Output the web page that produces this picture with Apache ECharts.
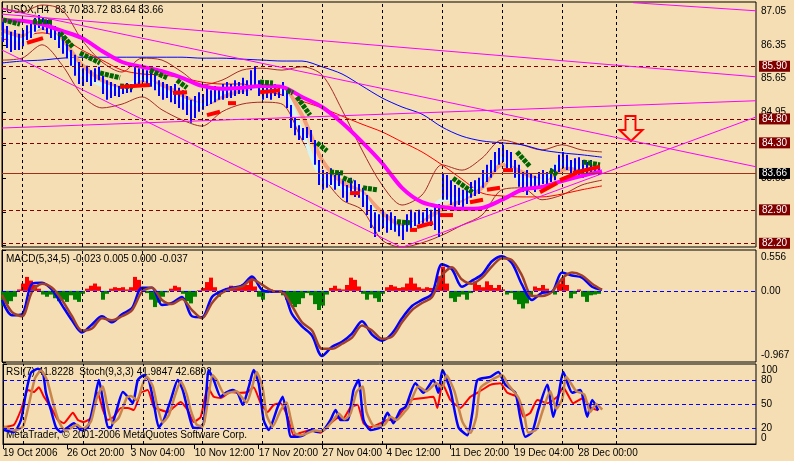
<!DOCTYPE html>
<html><head><meta charset="utf-8">
<script src="https://cdn.jsdelivr.net/npm/echarts@6/dist/echarts.min.js"></script>
<style>html,body{margin:0;padding:0;background:#F5DEB3;}#c{width:794px;height:461px;}</style>
</head><body><div id="c"></div>
<script>
// ---------- DATA ----------
const dateLabels = ["19 Oct 2006","26 Oct 20:00","3 Nov 04:00","10 Nov 12:00","17 Nov 20:00","27 Nov 04:00","4 Dec 12:00","11 Dec 20:00","19 Dec 04:00","28 Dec 00:00"];
const dateTicks = [0,32,64,96,128,160,192,224,256,288];
const separators = [10,40,70,100,130,160,190,220,250,280,307];

// price bars (every 2nd H4 bar), high / low
const priceHigh = [86.87,86.74,86.62,86.66,86.58,86.66,86.76,86.83,86.91,86.97,
86.93,86.87,86.78,86.74,86.62,86.53,86.41,86.24,86.14,85.99,
85.86,85.91,85.82,85.86,85.89,85.70,85.61,85.57,85.53,85.49,
85.53,85.55,85.53,85.91,85.86,85.89,85.82,85.78,85.74,85.61,
85.57,85.53,85.49,85.53,85.45,85.40,85.28,85.20,85.28,85.36,
85.32,85.45,85.40,85.49,85.45,85.53,85.57,85.53,85.61,85.57,
85.66,85.61,85.82,85.89,85.61,85.53,85.57,85.49,85.53,85.51,
85.57,85.45,85.09,84.82,84.67,84.61,84.63,84.57,84.36,83.94,
83.73,83.69,83.77,83.63,83.69,83.52,83.42,83.57,83.52,83.44,
83.36,83.21,83.00,82.85,82.81,82.90,82.81,82.85,82.77,82.69,
82.65,82.81,82.90,82.85,82.90,82.85,82.94,82.90,82.96,83.02,
83.67,83.63,83.52,83.42,83.36,83.32,83.40,83.48,83.52,83.57,
83.73,83.84,83.94,84.11,84.19,84.26,84.15,84.11,83.94,83.84,
83.69,83.73,83.65,83.61,83.69,83.73,83.69,83.77,83.84,84.05,
84.11,84.05,83.94,83.98,84.00,83.94,83.90,83.94,83.90,83.86];
const priceLow = [86.41,86.28,86.20,86.24,86.24,86.32,86.45,86.49,86.62,86.70,
86.66,86.58,86.49,86.45,86.28,86.16,86.07,85.91,85.70,85.53,
85.49,85.57,85.49,85.57,85.61,85.32,85.20,85.24,85.28,85.26,
85.32,85.34,85.36,85.49,85.53,85.57,85.49,85.47,85.40,85.28,
85.20,85.24,85.15,85.11,85.03,84.99,84.88,84.72,84.82,84.95,
84.99,85.07,85.11,85.15,85.20,85.20,85.24,85.24,85.28,85.32,
85.32,85.28,85.40,85.49,85.28,85.20,85.24,85.20,85.28,85.24,
85.28,85.03,84.61,84.46,84.36,84.36,84.40,84.32,83.84,83.42,
83.32,83.36,83.42,83.32,83.40,83.15,83.06,83.21,83.17,83.15,
82.96,82.79,82.52,82.33,82.44,82.52,82.42,82.48,82.44,82.35,
82.27,82.44,82.52,82.56,82.60,82.56,82.65,82.56,82.48,82.33,
83.11,83.11,83.00,82.96,83.00,82.90,83.02,83.15,83.19,83.23,
83.36,83.48,83.57,83.69,83.84,83.90,83.77,83.73,83.57,83.38,
83.27,83.21,83.32,83.27,83.40,83.44,83.38,83.48,83.52,83.69,
83.77,83.73,83.61,83.69,83.63,83.57,83.63,83.69,83.65,83.63];

// moving averages / bands sampled every 10 bars
const maBlue = [85.97,86.01,86.03,86.07,86.09,86.09,86.09,86.09,86.09,86.09,86.07,86.07,86.05,86.03,86.01,86.01,85.89,85.74,85.49,85.24,85.05,84.90,84.63,84.44,84.34,84.30,84.26,84.15,84.09,84.05,84.00];
const maMagenta = [86.87,86.85,86.78,86.64,86.49,86.22,85.99,85.89,85.80,85.66,85.49,85.43,85.45,85.49,85.47,85.26,85.05,84.72,84.32,83.88,83.36,83.06,82.96,82.92,82.94,83.11,83.32,83.38,83.50,83.61,83.71];
const maRed = [86.45,86.53,86.60,86.49,86.24,86.03,85.82,85.74,85.72,85.66,85.57,85.53,85.53,85.40,85.30,85.17,85.03,84.86,84.69,84.53,84.32,84.11,83.84,83.54,83.25,83.19,83.17,83.17,83.23,83.32,83.40];
const bandUp = [87.12,87.04,87.18,87.08,86.45,85.99,85.78,86.07,86.03,85.78,85.51,85.61,85.82,85.86,85.82,85.89,85.72,84.99,84.15,83.42,83.00,83.21,83.84,83.73,83.98,84.36,84.26,84.15,84.26,84.15,84.11];
const bandDn = [86.03,86.07,86.35,85.93,85.30,85.03,85.11,85.26,84.99,84.78,84.65,84.95,85.11,85.15,85.11,84.36,83.63,83.11,82.90,82.27,82.12,82.21,82.37,82.58,82.79,83.32,83.36,83.11,83.21,83.42,83.52];
const maCyan = [86.55,86.45,86.76,86.35,85.72,85.51,85.40,85.66,85.40,85.20,85.09,85.34,85.45,85.45,85.40,84.51,83.57,83.36,83.21,82.65,82.52,82.73,83.11,83.15,83.48,83.98,83.52,83.52,83.90,83.77,83.73];
const maSalmon = [86.66,86.53,86.70,86.45,85.93,85.61,85.45,85.57,85.51,85.30,85.09,85.26,85.40,85.47,85.45,84.88,83.94,83.48,83.27,82.85,82.58,82.69,82.90,83.11,83.36,83.84,83.69,83.52,83.73,83.77,83.73];

// trailing steps [barFrom, price, barTo, price]
const greenSteps = [[0.5,86.87,9,86.78],[15.5,86.83,25.5,86.83],[29,86.60,35.5,86.30],[39,86.18,49,85.97],[49,85.76,59,85.66],[59,85.49,65.5,85.47],[74,85.82,82.5,85.66],[87.5,85.61,92.5,85.45],[129,85.57,135.5,85.55],[142.5,85.40,145.5,85.34],[147.5,85.26,154,84.88],[157.5,84.30,162.5,84.13],[164,83.69,170.5,83.67],[170.5,83.57,175.5,83.48],[180.5,83.36,187.5,83.32],[197.5,82.65,204,82.63],[225.5,83.56,235.5,83.26],[257.5,84.11,264,83.80],[274,83.73,277.5,83.63],[290.5,83.90,299,83.84]];
const redSteps = [[12.5,86.39,20.5,86.49],[59,85.47,74,85.51],[85.5,85.34,92.5,85.36],[102.5,84.88,109,84.95],[113,85.13,117,85.13],[129,85.36,139,85.40],[174,83.25,179,83.25],[204,82.48,207.5,82.48],[207.5,82.54,215.5,82.63],[219,82.79,225.5,82.79],[234,83.06,240.5,83.11],[242.5,83.32,249,83.36],[250.5,83.73,255.5,83.73],[269,83.27,277.5,83.46],[279,83.52,287.5,83.67],[285.5,83.67,299,83.80]];

// trend lines [bar1, price1, bar2, price2]
const trendLines = [[315.5,87.23,377,87.06],[0,86.99,377,85.68],[0,87.10,377,83.80],[0,84.61,377,85.18],[0,86.24,200.5,82.10],[199,82.10,377,84.84]];
const levels = [85.90,84.80,84.30,82.90,82.20];
const lastPrice = 83.66;
const arrowAt = [314.5, 84.60];

// MACD sampled every 5 bars
const macdMain = [-0.123,-0.331,-0.317,0.098,0.112,0.015,-0.193,-0.400,-0.566,-0.456,
-0.345,-0.428,-0.317,-0.234,0.043,0.043,-0.193,-0.165,-0.082,-0.345,
-0.359,-0.082,0.001,0.043,0.071,0.195,0.015,-0.012,-0.012,-0.317,
-0.483,-0.608,-0.885,-0.760,-0.691,-0.580,-0.414,-0.594,-0.677,-0.580,
-0.373,-0.206,-0.123,-0.040,0.361,0.292,0.057,0.140,0.223,0.403,
0.472,0.375,0.084,-0.123,-0.026,-0.012,0.251,0.209,0.181,0.057,0.015];
const macdSignal = [-0.054,-0.289,-0.345,-0.012,0.098,0.043,-0.123,-0.345,-0.539,-0.511,
-0.373,-0.400,-0.345,-0.262,-0.012,0.043,-0.123,-0.179,-0.109,-0.262,
-0.373,-0.165,-0.026,0.029,0.057,0.154,0.084,0.001,-0.012,-0.206,
-0.428,-0.539,-0.788,-0.788,-0.719,-0.636,-0.469,-0.539,-0.650,-0.622,
-0.428,-0.262,-0.165,-0.082,0.209,0.320,0.154,0.098,0.181,0.334,
0.445,0.417,0.209,-0.068,-0.068,-0.012,0.168,0.251,0.209,0.098,0.015];
const macdHist = [-0.20,-0.18,-0.14,-0.08,0.02,0.10,0.19,0.14,0.08,0.03,
-0.05,-0.08,-0.05,-0.10,-0.14,-0.12,-0.15,-0.06,-0.12,-0.15,
-0.04,0.03,0.07,0.10,0.06,-0.12,-0.04,0.03,0.05,0.04,
0.05,0.02,0.05,0.19,0.15,0.04,-0.03,-0.12,-0.22,-0.16,
-0.08,-0.02,0.03,0.07,0.05,-0.04,-0.14,-0.17,-0.08,0.01,
0.04,0.12,0.18,0.05,-0.08,-0.02,0.04,0.07,0.05,0.06,
0.09,0.08,0.19,0.06,-0.08,-0.12,-0.03,0.02,0.01,-0.01,
-0.06,-0.12,-0.18,-0.22,-0.18,-0.10,-0.03,-0.06,-0.18,-0.26,
-0.20,-0.05,0.04,0.07,0.03,0.02,0.08,0.18,0.15,0.06,
-0.04,-0.12,-0.05,-0.10,-0.15,-0.04,0.05,0.08,0.06,0.04,
0.05,0.10,0.18,0.10,0.05,0.03,0.05,0.04,0.03,0.20,
0.33,0.10,-0.10,-0.15,-0.08,-0.05,-0.12,-0.03,0.13,0.08,
0.05,0.13,0.08,0.04,0.08,0.02,-0.05,-0.03,-0.12,-0.18,
-0.24,-0.17,-0.08,0.06,0.04,0.08,0.03,-0.02,-0.05,0.10,
0.18,0.08,-0.10,-0.04,0.02,-0.08,-0.15,-0.06,-0.05,-0.04];

// RSI / Stochastic [bar, value]
const stochMain = [[0.5,17.5],[5.5,15],[9,30],[11.5,64],[14,89],[17.5,94],[20,89],[21.5,64],[24,42.5],[26.5,21],[29,15],[32.5,21],[35.5,26],[39,17.5],[42.5,21],[45.5,51],[48,80],[50,55],[52.5,21],[54,21],[56.5,39],[60,65],[62.5,59],[65,51],[67.5,80],[70.5,86],[73,80],[75.5,51],[78,21],[80.5,30],[84,55],[87.5,80],[90,67.5],[92.5,42.5],[95,21],[97.5,20],[100.5,26],[103,92.5],[105.5,80],[109,59],[111.5,64],[115,67.5],[117.5,64],[120,49],[123,71],[125.5,92.5],[128,76],[130.5,30],[133,17.5],[137.5,46],[140,59],[142.5,30],[144,9],[147.5,9],[150.5,11],[154,17.5],[157.5,15],[160.5,17.5],[164,30],[166.5,42.5],[169,30],[172.5,30],[175.5,67.5],[178,80],[180.5,30],[184,17.5],[189,21],[192.5,39],[195.5,26],[199,42.5],[201.5,46],[206.5,76],[210.5,64],[215.5,80],[218,64],[220,92.5],[224,67.5],[228,21],[232.5,11],[235,39],[237.5,80],[244,84],[248,90],[251.5,74],[256.5,64],[259,32.5],[261.5,9],[265,15],[268,42.5],[272.5,74],[275.5,34],[278,59],[280.5,90],[285,64],[289,67.5],[292.5,34],[295,55],[298,42]];
const stochSignal = [[0.5,22],[5.5,17],[10,22],[13,50],[16,82],[19,92],[22,80],[25,52],[28,28],[31,17],[34,20],[37,24],[40,19],[44,28],[47,58],[50,72],[52,50],[55,26],[58,33],[62,58],[64,60],[67,55],[70,75],[72,84],[75,72],[77,50],[80,27],[83,36],[86,60],[89,78],[92,62],[94,42],[97,24],[100,22],[102,45],[105,86],[107,80],[111,62],[113,64],[117,66],[119,60],[122,52],[125,74],[127,90],[130,70],[132,36],[135,22],[139,42],[142,52],[144,32],[146,14],[149,11],[152,13],[156,17],[159,16],[162,20],[166,32],[168,38],[171,31],[174,38],[177,65],[180,72],[182,40],[186,22],[191,24],[194,34],[197,30],[201,40],[203,46],[208,72],[212,66],[217,76],[220,70],[222,86],[226,66],[230,28],[234,14],[237,34],[239,70],[246,82],[250,86],[253,74],[258,58],[261,36],[263,14],[267,18],[270,40],[274,66],[277,44],[280,56],[282,84],[287,66],[291,62],[294,40],[297,50],[300,43]];
const rsi = [[0.5,21],[5.5,24],[9,42.5],[12.5,67.5],[15.5,65],[18,71],[20.5,59],[24,46],[27.5,30],[30.5,26],[35,39],[37.5,30],[40.5,27.5],[44,32.5],[47.5,64],[50,42.5],[52.5,30],[55.5,34],[59,45],[62.5,45],[65.5,42.5],[69,64],[72.5,67.5],[75.5,46],[79,42.5],[82.5,40],[85.5,46],[89,52.5],[92.5,42.5],[95.5,27.5],[99,34],[102.5,71],[105.5,59],[109,57.5],[114,65],[119,64],[122.5,65],[125.5,71],[129,51],[132.5,40],[135.5,49],[139,51],[142.5,34],[145.5,11],[149,14],[154,17.5],[159,14],[164,26],[167.5,32.5],[170.5,32.5],[174,46],[177.5,49],[180.5,26],[184,21],[189,26],[192.5,30],[195.5,30],[199,38],[204,55],[210.5,57.5],[215.5,59],[217.5,45],[220,76],[224,55],[229,45],[234,59],[237.5,64],[244,74],[249,76],[252.5,64],[257.5,59],[260.5,34],[264,39],[267.5,55],[272.5,51],[277.5,59],[280.5,71],[285.5,51],[290.5,57.5],[294,46],[298,42]];
const rsiLevels = [20,50,80];

// ---------- CHART ----------
const FONT = "'Liberation Sans', sans-serif";
const FS = 10;
const XMAX = 377;
const chart = echarts.init(document.getElementById('c'), null, {renderer:'canvas'});
const barPos = priceHigh.map((_, k) => k * 2 + 0.5);
const maPos = maBlue.map((_, j) => j * 10);
const macdPos = macdMain.map((_, j) => j * 5);
const pair = (xs, ys) => ys.map((v, i) => [xs[i], v]);

const sepLine = {
  silent: true, symbol: ['none','none'], animation: false,
  label: {show: false},
  lineStyle: {color: '#000', type: [3,3], width: 1},
  data: separators.map(u => ({xAxis: u}))
};

function xAxisFor(i, withLabels) {
  return {
    type: 'value', gridIndex: i, min: 0, max: XMAX,
    axisLine: {show: withLabels, lineStyle: {color: '#000'}},
    splitLine: {show: false},
    axisTick: withLabels ? {show: true, length: 5, customValues: dateTicks, lineStyle:{color:'#000'}} : {show: false},
    axisLabel: withLabels ? {
      show: true, customValues: dateTicks, align: 'left', margin: 4, hideOverlap: false,
      color: '#000', fontSize: FS, fontFamily: FONT,
      formatter: v => dateLabels[dateTicks.indexOf(v)] || ''
    } : {show: false}
  };
}

const segRender = (color, width, dash) => (params, api) => {
  const a = api.coord([api.value(0), api.value(1)]);
  const b = api.coord([api.value(2), api.value(3)]);
  return {type: 'line', shape: {x1: a[0], y1: a[1], x2: b[0], y2: b[1]},
    style: {stroke: color, lineWidth: width, lineDash: dash}};
};

const lineS = (data, color, width, z, extra) => Object.assign({
  type: 'line', xAxisIndex: 0, yAxisIndex: 0, data, showSymbol: false, symbol: 'none',
  smooth: 0.3, lineStyle: {color, width}, z, silent: true, animation: false, clip: true
}, extra || {});

const levelLabel = {show: true, position: 'end', distance: 3, color: '#fff', fontSize: FS,
  fontFamily: FONT, padding: [1,3,0,3]};

const series = [
  lineS(pair(maPos, bandUp), '#A52A2A', 1, 1, {markLine: sepLine}),
  lineS(pair(maPos, bandDn), '#A52A2A', 1, 1),
  lineS(pair(maPos, maBlue), '#0000FF', 1, 1, {
    markLine: {
      silent: true, symbol: ['none','none'], animation: false,
      data: levels.map(v => ({yAxis: v, lineStyle: {color: '#800000', type: [4,3], width: 1},
        label: Object.assign({}, levelLabel, {formatter: v.toFixed(2), backgroundColor: '#800000'})}))
        .concat([{yAxis: lastPrice, lineStyle: {color: '#A0301A', type: 'solid', width: 1},
        label: Object.assign({}, levelLabel, {formatter: lastPrice.toFixed(2), backgroundColor: '#000'})}])
    },
    markPoint: {
      silent: true, animation: false,
      data: [{coord: arrowAt, symbol: 'path://M6,0 L16,0 L16,14 L23,14 L11.5,25 L0,14 L6,14 Z',
        symbolSize: [23, 25], itemStyle: {color: 'rgba(0,0,0,0)', borderColor: '#FF0000', borderWidth: 2},
        label: {show: false}}]
    }
  }),
  lineS(pair(maPos, maRed), '#FF0000', 1, 1),
  lineS(pair(maPos, maSalmon), '#F4A07A', 4, 2),
  lineS(pair(maPos, maCyan), '#D8F4F0', 4, 2),
  {
    type: 'custom', xAxisIndex: 0, yAxisIndex: 0, z: 3, silent: true, animation: false, clip: true,
    data: barPos.map((x, k) => [x, priceHigh[k], priceLow[k]]),
    encode: {x: 0, y: [1, 2]},
    renderItem: (params, api) => {
      const a = api.coord([api.value(0), api.value(1)]);
      const b = api.coord([api.value(0), api.value(2)]);
      const x = Math.round(a[0]);
      return {type: 'line', shape: {x1: x, y1: a[1], x2: x, y2: b[1]},
        style: {stroke: '#0000FF', lineWidth: 2}};
    }
  },
  lineS(pair(maPos, maMagenta), '#FF00FF', 4, 4),
  {type: 'custom', xAxisIndex: 0, yAxisIndex: 0, z: 5, silent: true, animation: false, clip: true,
    data: greenSteps, encode: {x: [0, 2], y: [1, 3]}, renderItem: segRender('#006400', 5, [4, 1])},
  {type: 'custom', xAxisIndex: 0, yAxisIndex: 0, z: 5, silent: true, animation: false, clip: true,
    data: redSteps, encode: {x: [0, 2], y: [1, 3]}, renderItem: segRender('#FF0000', 4, null)}
];
trendLines.forEach(t => series.push(lineS([[t[0], t[1]], [t[2], t[3]]], '#FF00FF', 1, 6, {smooth: false})));

// MACD
series.push({
  type: 'bar', xAxisIndex: 1, yAxisIndex: 1, barWidth: 4, silent: true, animation: false, z: 1,
  data: barPos.map((x, k) => [x, macdHist[k]]),
  itemStyle: {color: p => p.value[1] >= 0 ? '#FF0000' : '#008000'}
});
series.push({type: 'line', xAxisIndex: 1, yAxisIndex: 1, data: pair(macdPos, macdMain), symbol: 'none',
  smooth: 0.3, lineStyle: {color: '#0000FF', width: 2.5}, z: 2, silent: true, animation: false,
  markLine: sepLine});
series.push({type: 'line', xAxisIndex: 1, yAxisIndex: 1, data: pair(macdPos, macdSignal), symbol: 'none',
  smooth: 0.3, lineStyle: {color: '#A0402A', width: 2.5}, z: 3, silent: true, animation: false,
  markLine: {silent: true, symbol: ['none','none'], animation: false, label: {show: false},
    lineStyle: {color: '#0000FF', type: [4,3], width: 1}, data: [{yAxis: 0}]}});

// RSI / Stoch
series.push({type: 'line', xAxisIndex: 2, yAxisIndex: 2, data: rsi, symbol: 'none', smooth: 0.15,
  lineStyle: {color: '#FF0000', width: 2}, z: 2, silent: true, animation: false, markLine: sepLine});
series.push({type: 'line', xAxisIndex: 2, yAxisIndex: 2, data: stochMain, symbol: 'none', smooth: 0.2,
  lineStyle: {color: '#0000FF', width: 2.5}, z: 3, silent: true, animation: false,
  markLine: {silent: true, symbol: ['none','none'], animation: false, label: {show: false},
    lineStyle: {color: '#0000FF', type: [4,3], width: 1}, data: rsiLevels.map(v => ({yAxis: v}))}});
series.push({type: 'line', xAxisIndex: 2, yAxisIndex: 2, data: stochSignal, symbol: 'none', smooth: 0.2,
  lineStyle: {color: '#C8844A', width: 2.5}, z: 4, silent: true, animation: false});

const yCommon = {
  position: 'right', splitLine: {show: false},
  axisLine: {show: true, lineStyle: {color: '#000'}},
  axisTick: {show: true, length: 4, lineStyle: {color: '#000'}},
};
const mainTicks = [87.05,86.35,85.65,84.95,84.25,83.55,82.85,82.15];
const macdTicks = [0.556, 0, -0.967];
const rsiTicks = [100, 80, 50, 20, 0];

const option = {
  backgroundColor: '#F5DEB3',
  animation: false,
  textStyle: {fontFamily: FONT},
  grid: [
    {left: 2, top: 2, width: 754, height: 245, show: true, borderColor: '#000', borderWidth: 1, backgroundColor: 'transparent'},
    {left: 2, top: 250, width: 754, height: 112, show: true, borderColor: '#000', borderWidth: 1, backgroundColor: 'transparent'},
    {left: 2, top: 364, width: 754, height: 80, show: true, borderColor: '#000', borderWidth: 1, backgroundColor: 'transparent'}
  ],
  xAxis: [xAxisFor(0, false), xAxisFor(1, false), xAxisFor(2, true)],
  yAxis: [
    Object.assign({}, yCommon, {type: 'value', gridIndex: 0, min: 82.123, max: 87.244,
      axisTick: Object.assign({}, yCommon.axisTick, {customValues: mainTicks}),
      axisLabel: {customValues: mainTicks, margin: 5, hideOverlap: false, color: '#000', fontSize: FS, fontFamily: FONT, formatter: v => v.toFixed(2)}}),
    Object.assign({}, yCommon, {type: 'value', gridIndex: 1, min: -0.967, max: 0.556,
      axisTick: Object.assign({}, yCommon.axisTick, {customValues: macdTicks}),
      axisLabel: {customValues: macdTicks, margin: 5, hideOverlap: false, color: '#000', fontSize: FS, fontFamily: FONT,
        formatter: v => v > 0.1 ? '{t|' + v.toFixed(3) + '}' : (v < -0.1 ? '{b|' + v.toFixed(3) + '}' : '0.00'),
        rich: {t: {padding: [14,0,0,0], fontSize: FS, fontFamily: FONT}, b: {padding: [0,0,14,0], fontSize: FS, fontFamily: FONT}}}}),
    Object.assign({}, yCommon, {type: 'value', gridIndex: 2, min: 0, max: 100,
      axisTick: Object.assign({}, yCommon.axisTick, {customValues: rsiTicks}),
      axisLabel: {customValues: rsiTicks, margin: 5, hideOverlap: false, color: '#000', fontSize: FS, fontFamily: FONT,
        formatter: v => v === 100 ? '{t|100}' : (v === 0 ? '{b|0}' : String(v)),
        rich: {t: {padding: [12,0,0,0], fontSize: FS, fontFamily: FONT}, b: {padding: [0,0,12,0], fontSize: FS, fontFamily: FONT}}}})
  ],
  graphic: [
    {type: 'text', left: 6, top: 5, z: 0, style: {text: 'USDX,H4  83.70 83.72 83.64 83.66', fill: '#000', font: FS + 'px ' + FONT}},
    {type: 'text', left: 6, top: 254, z: 0, style: {text: 'MACD(5,34,5) -0.023 0.005 0.000 -0.037', fill: '#000', font: FS + 'px ' + FONT}},
    {type: 'text', left: 6, top: 367, z: 0, style: {text: 'RSI(7) 41.8228  Stoch(9,3,3) 41.9847 42.6802', fill: '#000', font: FS + 'px ' + FONT}},
    {type: 'text', left: 6, top: 430, z: 0, style: {text: 'MetaTrader, \u00A9 2001-2006 MetaQuotes Software Corp.', fill: '#000', font: FS + 'px ' + FONT}}
  ],
  series
};
chart.setOption(option);
</script></body></html>
